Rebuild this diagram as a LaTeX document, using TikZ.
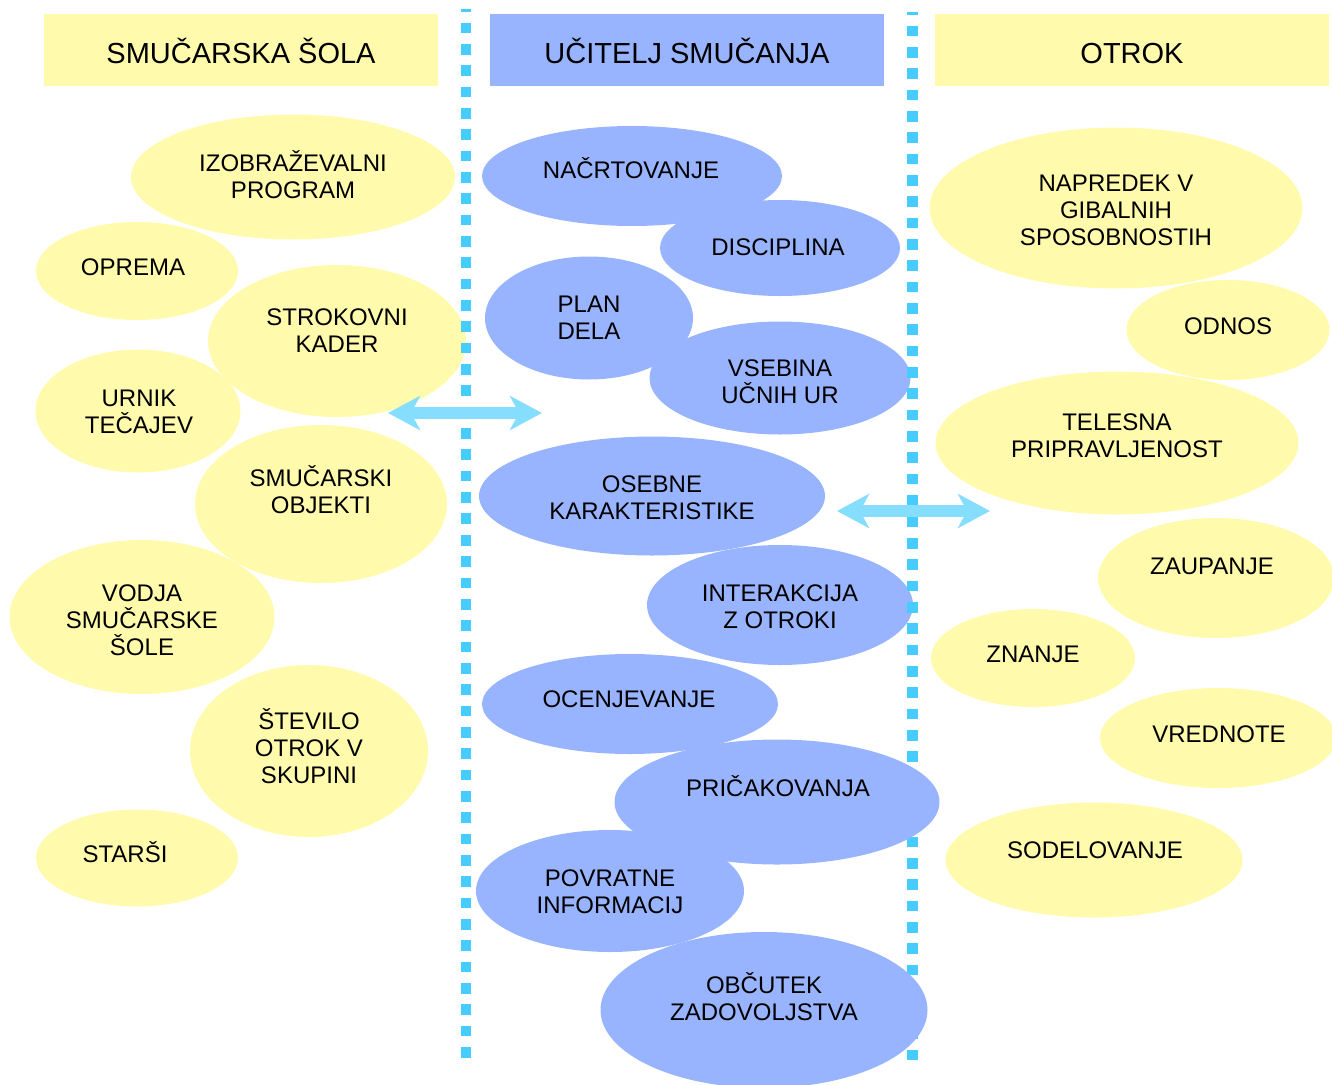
\documentclass[tikz,border=0pt]{standalone}
\usepackage{fontspec}
\setmainfont{Liberation Sans}
\usetikzlibrary{shapes.geometric,arrows.meta}
\definecolor{paleyellow}{HTML}{FFFAAC}
\definecolor{paleblue}{HTML}{99B4FF}
\definecolor{dotcyan}{HTML}{47CCFF}
\definecolor{arrowcyan}{HTML}{86DEFF}
\tikzset{
  yel/.style={ellipse,fill=paleyellow,draw=none,inner sep=0pt},
  blu/.style={ellipse,fill=paleblue,draw=none,inner sep=0pt},
  lbl/.style={align=center,inner sep=0pt,font=\fontsize{24}{27}\selectfont},
  header/.style={minimum width=394pt,minimum height=72pt,inner sep=0pt,
    font=\fontsize{29}{32}\selectfont},
  divider/.style={draw=dotcyan,line width=10.5pt,dash pattern=on 10.67pt off 10.67pt,dash phase=7.67pt},
  twoway/.style={draw=arrowcyan,line width=12pt,
    {Stealth[length=32pt,width=34pt,inset=9pt]}-{Stealth[length=32pt,width=34pt,inset=9pt]}}
}
\begin{document}
\begin{tikzpicture}[x=1pt,y=-1pt]
\useasboundingbox (0,0) rectangle (1332,1084);
\clip (0,0) rectangle (1332,1084);

% column headers
\node[header,fill=paleyellow] (hsola) at (241,50) {};
\node[lbl,font=\fontsize{29}{32}\selectfont] (thsola) at (241,51) {SMUČARSKA ŠOLA};
\node[header,fill=paleblue] (hucitelj) at (686.5,50) {};
\node[lbl,font=\fontsize{29}{32}\selectfont] (thucitelj) at (687,51) {UČITELJ SMUČANJA};
\node[header,fill=paleyellow] (hotrok) at (1132,50) {};
\node[lbl,font=\fontsize{29}{32}\selectfont] (thotrok) at (1132,54) {OTROK};

% ski school
\node[yel,minimum width=324pt,minimum height=125pt] (izob) at (293,177) {};
\node[yel,minimum width=202pt,minimum height=98pt] (oprema) at (137,271) {};
\node[yel,minimum width=258pt,minimum height=152pt] (kader) at (337,341) {};
\node[yel,minimum width=205pt,minimum height=123pt] (urnik) at (138,411) {};
\node[yel,minimum width=252pt,minimum height=158pt] (objekti) at (321,504) {};
\node[yel,minimum width=265pt,minimum height=154pt] (vodja) at (142,617) {};
\node[yel,minimum width=238pt,minimum height=172pt] (stevilo) at (309,751) {};
\node[yel,minimum width=202pt,minimum height=97pt] (starsi) at (137,858) {};

% child
\node[yel,minimum width=373pt,minimum height=161pt] (napredek) at (1116,208) {};
\node[yel,minimum width=203pt,minimum height=100pt] (odnos) at (1228,330) {};
\node[yel,minimum width=363pt,minimum height=143pt] (telesna) at (1117,443) {};
\node[yel,minimum width=236pt,minimum height=120pt] (zaupanje) at (1216,578) {};
\node[yel,minimum width=204pt,minimum height=98pt] (znanje) at (1033,658) {};
\node[yel,minimum width=236pt,minimum height=100pt] (vrednote) at (1218,738) {};
\node[yel,minimum width=297pt,minimum height=115pt] (sodelovanje) at (1094,860) {};

% ski instructor
\node[blu,minimum width=300pt,minimum height=100pt] (nacrt) at (632,176) {};
\node[blu,minimum width=240pt,minimum height=96pt] (disc) at (780,248) {};
\node[blu,minimum width=208pt,minimum height=123pt] (plan) at (589,318) {};
\node[blu,minimum width=261pt,minimum height=113pt] (vsebina) at (780,378) {};
\node[blu,minimum width=346pt,minimum height=119pt] (osebne) at (652,496) {};
\node[blu,minimum width=266pt,minimum height=120pt] (inter) at (780,605) {};
\node[blu,minimum width=296pt,minimum height=100pt] (ocen) at (630,704) {};
\node[blu,minimum width=268pt,minimum height=122pt] (povratne) at (610,891) {};

% dotted dividers between the columns
\coordinate (ltop) at (466,9);
\coordinate (lbot) at (466,1058);
\coordinate (rtop) at (912.5,12);
\coordinate (rbot) at (912.5,1060);
\draw[divider] (ltop) -- (lbot);
\draw[divider] (rtop) -- (rbot);

\node[blu,minimum width=325pt,minimum height=125pt] (pricak) at (777,802) {};
\node[blu,minimum width=327pt,minimum height=156pt] (obcutek) at (764,1010) {};

% labels
\node[lbl] (tizob) at (293,175) {IZOBRAŽEVALNI\\PROGRAM};
\node[lbl] (toprema) at (133,267) {OPREMA};
\node[lbl] (tkader) at (337,331) {STROKOVNI\\KADER};
\node[lbl] (turnik) at (139,412) {URNIK\\TEČAJEV};
\node[lbl] (tobjekti) at (321,490) {SMUČARSKI\\OBJEKTI};
\node[lbl] (tvodja) at (142,620) {VODJA\\SMUČARSKE\\ŠOLE};
\node[lbl] (tstevilo) at (309,746) {ŠTEVILO\\OTROK V\\SKUPINI};
\node[lbl] (tstarsi) at (125,852) {STARŠI};

\node[lbl] (tnacrt) at (631,168) {NAČRTOVANJE};
\node[lbl] (tdisc) at (778,247) {DISCIPLINA};
\node[lbl] (tplan) at (589,318) {PLAN\\DELA};
\node[lbl] (tvsebina) at (780,382) {VSEBINA\\UČNIH UR};
\node[lbl] (tosebne) at (652,498) {OSEBNE\\KARAKTERISTIKE};
\node[lbl] (tinter) at (780,607) {INTERAKCIJA\\Z OTROKI};
\node[lbl] (tocen) at (629,699) {OCENJEVANJE};
\node[lbl] (tpricak) at (778,786) {PRIČAKOVANJA};
\node[lbl] (tpovratne) at (610,892) {POVRATNE\\INFORMACIJ};
\node[lbl] (tobcutek) at (764,997) {OBČUTEK\\ZADOVOLJSTVA};

\node[lbl] (tnapredek) at (1116,210) {NAPREDEK V\\GIBALNIH\\SPOSOBNOSTIH};
\node[lbl] (todnos) at (1228,326) {ODNOS};
\node[lbl] (ttelesna) at (1117,436) {TELESNA\\PRIPRAVLJENOST};
\node[lbl] (tzaupanje) at (1212,566) {ZAUPANJE};
\node[lbl] (tznanje) at (1033,654) {ZNANJE};
\node[lbl] (tvrednote) at (1219,734) {VREDNOTE};
\node[lbl] (tsodelovanje) at (1095,850) {SODELOVANJE};

% two-way links across the dividers
\coordinate (al) at (388,413);
\coordinate (ar) at (542,413);
\coordinate (bl) at (837,511);
\coordinate (br) at (990,511);
\draw[twoway] (al) -- (ar);
\draw[twoway] (bl) -- (br);
\end{tikzpicture}
\end{document}
